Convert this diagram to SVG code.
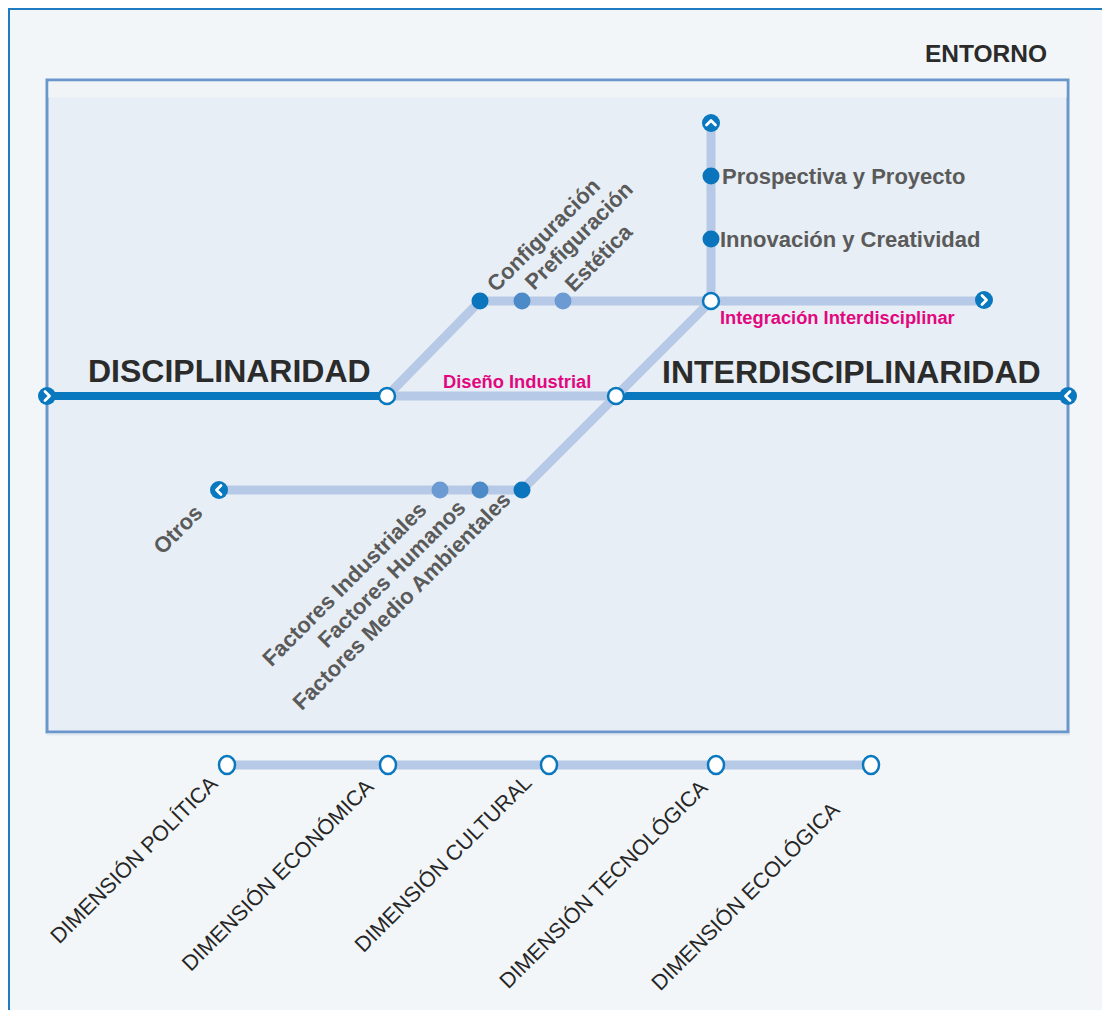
<svg xmlns="http://www.w3.org/2000/svg" xmlns:xlink="http://www.w3.org/1999/xlink" width="1102" height="1010" viewBox="0 0 1102 1010">
<style>
.title{font-family:"Liberation Sans",Arial,sans-serif;font-weight:bold;fill:#2b2b2b}
.gray{font-family:"Liberation Sans",Arial,sans-serif;font-weight:bold;font-size:22px;fill:#5a5a5a}
.mag{font-family:"Liberation Sans",Arial,sans-serif;font-weight:bold;font-size:18.3px;fill:#e2077f}
.dim{font-family:"Liberation Sans",Arial,sans-serif;font-size:21.5px;fill:#262626}
.light{stroke:#b6c9e6;stroke-width:9;fill:none}
.dark{stroke:#0a78be;stroke-width:8;fill:none}
.wnode{fill:#fff;stroke:#0a78be;stroke-width:2.5}
.d1{fill:#0a74bc}
.d2{fill:#4d8ac8}
.d3{fill:#6c9bd3}
</style>
<defs>
<g id="chev">
<circle r="9" fill="#0a78be"/>
<path d="M-2,-4.5 L2.5,0 L-2,4.5" fill="none" stroke="#fff" stroke-width="2.8" stroke-linecap="round" stroke-linejoin="round"/>
</g>
</defs>
<rect x="0" y="0" width="1102" height="1010" fill="#ffffff"/>
<rect id="entorno-frame" x="9" y="9" width="1110" height="1020" fill="#f3f6f8" stroke="#1f7cc0" stroke-width="2"/>
<g id="entorno">
<text class="title" x="925" y="62" font-size="24.5">ENTORNO</text>
</g>
<g id="inner-box">
<rect x="47" y="80" width="1021" height="652" fill="#e7eef5" stroke="#6a96cc" stroke-width="3"/>
<rect x="48.5" y="81.5" width="1018" height="16" fill="#f0f4f7"/>
<line x1="47" y1="734.5" x2="1070" y2="734.5" stroke="#dfe7ef" stroke-width="2"/>
</g>
<g id="connectors">
<line class="light" x1="387" y1="396" x2="616" y2="396"/>
<line class="dark" x1="47" y1="396" x2="387" y2="396"/>
<line class="dark" x1="616" y1="396" x2="1068" y2="396"/>
<polyline class="light" points="387,396 480,301 984,301"/>
<line class="light" x1="711" y1="123" x2="711" y2="301"/>
<polyline class="light" points="711,301 522,490 219,490"/>
<line class="light" x1="227" y1="765" x2="871" y2="765"/>
</g>
<g id="node-disciplinaridad">
<use xlink:href="#chev" transform="translate(47,396)"/>
<text class="title" x="88" y="382" font-size="32">DISCIPLINARIDAD</text>
</g>
<g id="node-interdisciplinaridad">
<use xlink:href="#chev" transform="translate(1068,396) rotate(180)"/>
<text class="title" x="662" y="383" font-size="32">INTERDISCIPLINARIDAD</text>
</g>
<g id="node-diseno-industrial">
<circle class="wnode" cx="387" cy="396" r="8"/>
<text class="mag" x="443" y="388">Diseño Industrial</text>
</g>
<g id="node-cruce">
<circle class="wnode" cx="616" cy="396" r="8"/>
</g>
<g id="node-configuracion">
<circle class="d1" cx="480" cy="301" r="8.5"/>
<text class="gray" transform="translate(496,293) rotate(-45)">Configuración</text>
</g>
<g id="node-prefiguracion">
<circle class="d2" cx="522" cy="301" r="8.5"/>
<text class="gray" transform="translate(534,291) rotate(-45)">Prefiguración</text>
</g>
<g id="node-estetica">
<circle class="d3" cx="563" cy="301" r="8.5"/>
<text class="gray" transform="translate(574,293) rotate(-45)">Estética</text>
</g>
<g id="node-integracion">
<circle class="wnode" cx="711" cy="301" r="8"/>
<text class="mag" x="720" y="324">Integración Interdisciplinar</text>
</g>
<g id="node-fin-derecha">
<use xlink:href="#chev" transform="translate(984,300)"/>
</g>
<g id="node-fin-arriba">
<use xlink:href="#chev" transform="translate(711,123) rotate(-90)"/>
</g>
<g id="node-prospectiva">
<circle class="d1" cx="711" cy="176" r="8.5"/>
<text class="gray" x="722" y="184">Prospectiva y  Proyecto</text>
</g>
<g id="node-innovacion">
<circle class="d1" cx="711" cy="239" r="8.5"/>
<text class="gray" x="720" y="247">Innovación y Creatividad</text>
</g>
<g id="node-medio-ambientales">
<circle class="d1" cx="522" cy="490" r="8.5"/>
<text class="gray" text-anchor="end" transform="translate(512,501) rotate(-45)">Factores Medio Ambientales</text>
</g>
<g id="node-humanos">
<circle class="d2" cx="480" cy="490" r="8.5"/>
<text class="gray" text-anchor="end" transform="translate(467,509) rotate(-45)">Factores Humanos</text>
</g>
<g id="node-industriales">
<circle class="d3" cx="440" cy="490" r="8.5"/>
<text class="gray" text-anchor="end" transform="translate(428,511) rotate(-45)">Factores Industriales</text>
</g>
<g id="node-otros">
<use xlink:href="#chev" transform="translate(219,490) rotate(180)"/>
<text class="gray" text-anchor="end" transform="translate(204,514) rotate(-45)">Otros</text>
</g>
<g id="node-politica">
<ellipse class="wnode" cx="227" cy="765" rx="8" ry="9" stroke-width="2"/>
<text class="dim" text-anchor="end" transform="translate(219,785) rotate(-45)">DIMENSIÓN POLÍTICA</text>
</g>
<g id="node-economica">
<ellipse class="wnode" cx="388" cy="765" rx="8" ry="9" stroke-width="2"/>
<text class="dim" text-anchor="end" transform="translate(375,788) rotate(-45)">DIMENSIÓN ECONÓMICA</text>
</g>
<g id="node-cultural">
<ellipse class="wnode" cx="549" cy="765" rx="8" ry="9" stroke-width="2"/>
<text class="dim" text-anchor="end" transform="translate(533,784) rotate(-45)">DIMENSIÓN CULTURAL</text>
</g>
<g id="node-tecnologica">
<ellipse class="wnode" cx="716" cy="765" rx="8" ry="9" stroke-width="2"/>
<text class="dim" text-anchor="end" transform="translate(709,789) rotate(-45)">DIMENSIÓN TECNOLÓGICA</text>
</g>
<g id="node-ecologica">
<ellipse class="wnode" cx="871" cy="765" rx="8" ry="9" stroke-width="2"/>
<text class="dim" text-anchor="end" transform="translate(841,811) rotate(-45)">DIMENSIÓN ECOLÓGICA</text>
</g>
</svg>
